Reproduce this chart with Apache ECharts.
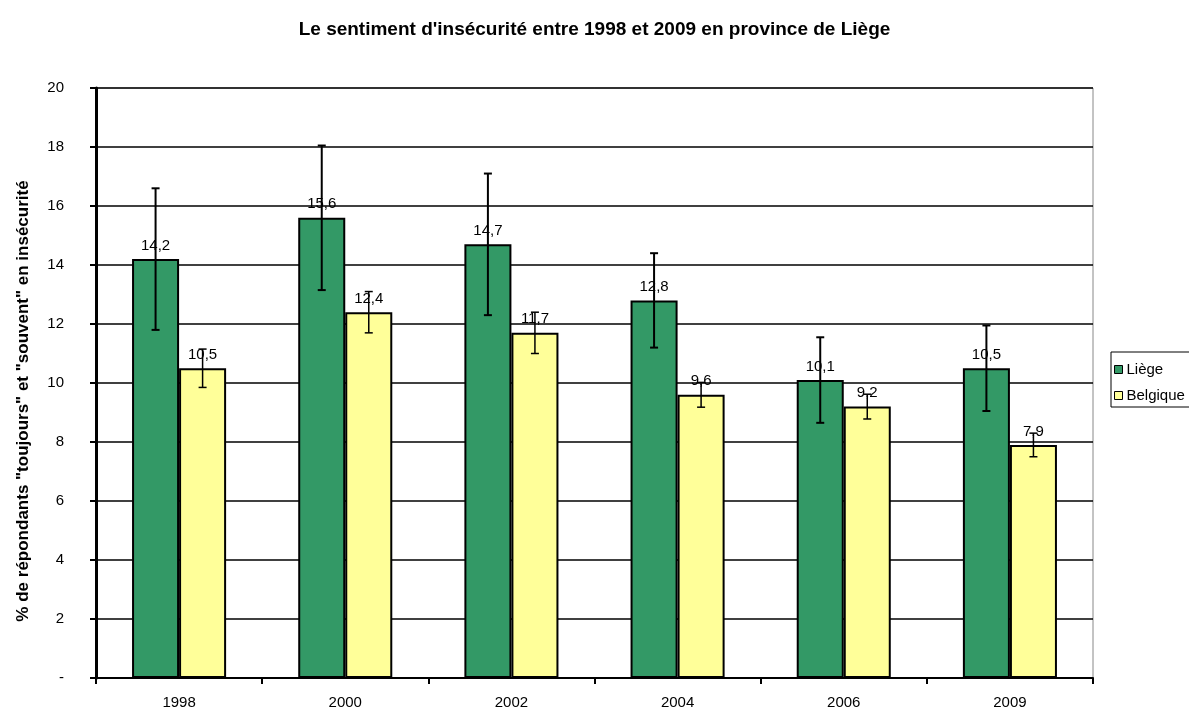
<!DOCTYPE html>
<html>
<head>
<meta charset="utf-8">
<title>Sentiment d'insécurité</title>
<script src="https://cdn.jsdelivr.net/npm/echarts@6/dist/echarts.min.js"></script>
</head>
<body style="margin:0">
<div id="chart" style="width:1189px; height:710px;"></div>
<script>
// données
var annees = ['1998', '2000', '2002', '2004', '2006', '2009'];
var liege = [14.2, 15.6, 14.7, 12.8, 10.1, 10.5];
var belgique = [10.5, 12.4, 11.7, 9.6, 9.2, 7.9];
// demi-largeur des intervalles (barres d'erreur)
var liegeErr = [2.4, 2.45, 2.4, 1.6, 1.45, 1.45];
var belgiqueErr = [0.65, 0.7, 0.7, 0.42, 0.42, 0.4];

var police = 'Liberation Sans, Arial, sans-serif';
var largeurBarre = 0.283; // part de la catégorie

function fmt(v) { return String(v).replace('.', ','); }

function erreurs(valeurs, ecarts) {
	return valeurs.map(function (v, i) { return [i, v - ecarts[i], v + ecarts[i]]; });
}

function serieErreur(nom, valeurs, ecarts, decalage, epaisseur) {
	return {
		type: 'custom',
		name: nom + ' err',
		z: 10,
		silent: true,
		data: erreurs(valeurs, ecarts),
		renderItem: function (params, api) {
			var bande = api.size([1, 0])[0];
			var bas = api.coord([api.value(0), api.value(1)]);
			var haut = api.coord([api.value(0), api.value(2)]);
			var x = bas[0] + decalage * bande * largeurBarre;
			var cap = 4;
			var style = { stroke: '#000', lineWidth: epaisseur };
			return {
				type: 'group',
				children: [
					{ type: 'line', shape: { x1: x, y1: haut[1], x2: x, y2: bas[1] }, style: style },
					{ type: 'line', shape: { x1: x - cap, y1: haut[1], x2: x + cap, y2: haut[1] }, style: style },
					{ type: 'line', shape: { x1: x - cap, y1: bas[1], x2: x + cap, y2: bas[1] }, style: style }
				]
			};
		}
	};
}

function serieBarre(nom, valeurs, couleur) {
	return {
		type: 'bar',
		name: nom,
		data: valeurs,
		barWidth: (largeurBarre * 100) + '%',
		barGap: '0%',
		itemStyle: { color: couleur, borderColor: '#000', borderWidth: 2 },
		label: {
			show: true, position: 'top', distance: 6,
			color: '#000', fontFamily: police, fontSize: 15,
			formatter: function (p) { return fmt(p.value); }
		}
	};
}

var option = {
	animation: false,
	backgroundColor: '#fff',
	title: {
		text: "Le sentiment d'insécurité entre 1998 et 2009 en province de Liège",
		left: 'center', top: 15,
		textStyle: { fontFamily: police, fontSize: 19, fontWeight: 'bold', color: '#000' }
	},
	legend: {
		data: ['Liège', 'Belgique'],
		orient: 'vertical',
		left: 1111, top: 352,
		borderColor: '#000', borderWidth: 1,
		padding: [10, 6, 4, 3],
		itemGap: 11,
		itemWidth: 8, itemHeight: 8,
		icon: 'rect',
		itemStyle: { borderColor: '#000', borderWidth: 1 },
		textStyle: { fontFamily: police, fontSize: 15, color: '#000', padding: [0, 0, 0, -1] }
	},
	grid: {
		left: 96, right: 96, top: 88, bottom: 32,
		show: true, borderColor: '#888', borderWidth: 1
	},
	xAxis: {
		type: 'category',
		data: annees,
		axisLine: { lineStyle: { color: '#000', width: 2 } },
		axisTick: { show: true, length: 6, lineStyle: { color: '#000', width: 2 } },
		axisLabel: { color: '#000', fontFamily: police, fontSize: 15, margin: 17 }
	},
	yAxis: {
		type: 'value',
		min: 0, max: 20, interval: 2,
		name: '% de répondants "toujours" et "souvent" en insécurité',
		nameLocation: 'middle', nameGap: 64,
		nameTextStyle: { fontFamily: police, fontSize: 17, fontWeight: 'bold', color: '#000', padding: [0, 36, 0, 0] },
		axisLine: { show: true, lineStyle: { color: '#000', width: 3 } },
		axisTick: { show: true, length: 6, lineStyle: { color: '#000', width: 2 } },
		axisLabel: {
			color: '#000', fontFamily: police, fontSize: 15, margin: 32,
			formatter: function (v) { return v === 0 ? '-' : v; }
		},
		splitLine: { lineStyle: { color: '#000', width: 1.5 } }
	},
	series: [
		serieBarre('Liège', liege, '#339966'),
		serieBarre('Belgique', belgique, '#FFFF99'),
		serieErreur('Liège', liege, liegeErr, -0.5, 2),
		serieErreur('Belgique', belgique, belgiqueErr, 0.5, 1.5)
	]
};

var chart = echarts.init(document.getElementById('chart'));
chart.setOption(option);
</script>
</body>
</html>
